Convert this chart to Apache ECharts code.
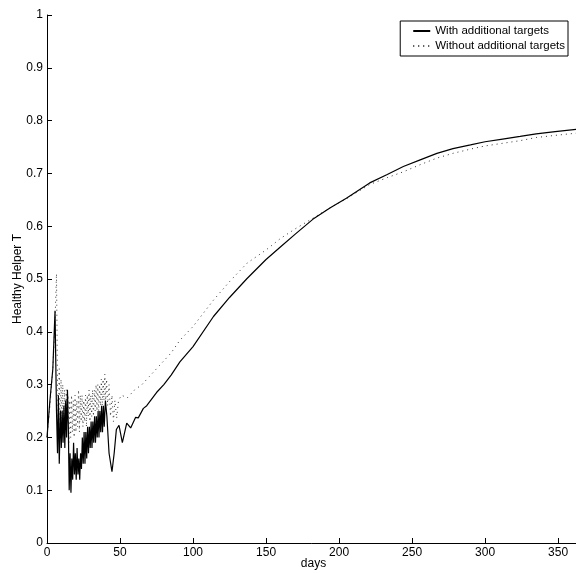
<!DOCTYPE html>
<html>
<head>
<meta charset="utf-8">
<script src="https://cdn.jsdelivr.net/npm/echarts@6/dist/echarts.min.js"></script>
<style>
  html, body { margin: 0; padding: 0; background: #fff; }
  #chart { width: 576px; height: 573px; }
</style>
</head>
<body>
<div id="chart"></div>
<script>
  // [day, value]
  var withTargets = [
    [0, 0.20], [2, 0.27], [4, 0.33], [5.5, 0.44], [6.5, 0.25], [7.2, 0.17], [7.8, 0.28], [8.4, 0.15],
    [9.2, 0.25], [9.8, 0.18], [10.4, 0.25], [11.0, 0.19], [11.6, 0.26], [12.2, 0.18], [12.8, 0.27],
    [13.4, 0.20], [14.0, 0.29], [14.6, 0.22], [15.2, 0.10], [15.8, 0.17], [16.4, 0.095], [17.0, 0.16],
    [17.6, 0.12], [18.2, 0.19], [18.8, 0.13], [19.4, 0.17], [20.0, 0.12], [20.6, 0.18], [21.2, 0.13],
    [21.8, 0.16], [22.4, 0.12], [23.0, 0.17], [23.6, 0.14], [24.2, 0.20], [24.8, 0.15], [25.4, 0.21],
    [26.0, 0.15], [26.6, 0.21], [27.2, 0.16], [27.8, 0.22], [28.4, 0.17], [29.0, 0.22], [29.6, 0.18],
    [30.2, 0.23], [30.8, 0.18], [31.4, 0.23], [32.0, 0.19], [32.6, 0.24], [33.2, 0.19], [33.8, 0.24],
    [34.4, 0.20], [35.0, 0.25], [35.6, 0.20], [36.2, 0.25], [36.8, 0.21], [37.4, 0.26], [38.0, 0.21],
    [38.6, 0.26], [39.2, 0.22], [40.0, 0.27], [41.0, 0.24], [42.5, 0.17], [44.5, 0.135], [46.0, 0.17],
    [47.5, 0.215], [49.3, 0.223], [51.6, 0.19], [54.6, 0.227], [57.3, 0.218], [60.7, 0.238], [62.5, 0.237],
    [66, 0.255], [68.3, 0.26], [75, 0.285], [80, 0.30], [85, 0.318], [91, 0.343], [100, 0.372],
    [114, 0.429], [125, 0.465], [137, 0.501], [150, 0.537], [160, 0.561], [170, 0.585], [182, 0.613],
    [194, 0.635], [205, 0.653], [221, 0.682], [233, 0.698], [244, 0.713], [256, 0.726], [267, 0.738],
    [278, 0.747], [290, 0.754], [300, 0.760], [312, 0.765], [324, 0.770], [335, 0.775], [348, 0.779],
    [365, 0.784]
  ];

  var withoutTargets = [
    [0, 0.20], [2, 0.26], [4, 0.33], [5.5, 0.42], [6.5, 0.51], [7.2, 0.30], [7.8, 0.22], [8.4, 0.33],
    [9.0, 0.20], [9.6, 0.31], [10.2, 0.22], [10.8, 0.30], [11.4, 0.21], [12.0, 0.29], [12.6, 0.22],
    [13.2, 0.29], [13.8, 0.23], [14.4, 0.28], [15.0, 0.19], [15.6, 0.27], [16.2, 0.20], [16.8, 0.28],
    [17.4, 0.21], [18.0, 0.27], [18.6, 0.20], [19.2, 0.28], [19.8, 0.21], [20.4, 0.27], [21.0, 0.22],
    [21.6, 0.29], [22.2, 0.21], [22.8, 0.28], [23.4, 0.23], [24.0, 0.28], [24.6, 0.22], [25.2, 0.27],
    [25.8, 0.23], [26.4, 0.28], [27.0, 0.22], [27.6, 0.28], [28.2, 0.24], [28.8, 0.29], [29.4, 0.23],
    [30.0, 0.28], [30.6, 0.24], [31.2, 0.29], [31.8, 0.24], [32.4, 0.29], [33.0, 0.25], [33.6, 0.30],
    [34.2, 0.25], [34.8, 0.30], [35.4, 0.25], [36.0, 0.30], [36.6, 0.26], [37.2, 0.31], [37.8, 0.26],
    [38.4, 0.31], [39.0, 0.27], [39.6, 0.32], [40.2, 0.27], [40.8, 0.31], [41.5, 0.26], [42.5, 0.30],
    [43.5, 0.24], [44.5, 0.28], [45.5, 0.23], [46.5, 0.27], [47.7, 0.236], [49.0, 0.27], [51, 0.28],
    [55, 0.275], [60, 0.29], [65, 0.30], [70, 0.315], [75, 0.33], [80, 0.345], [85, 0.36], [91, 0.384],
    [100, 0.41], [114, 0.46], [125, 0.495], [137, 0.53], [150, 0.555], [160, 0.577], [170, 0.595],
    [182, 0.615], [194, 0.635], [205, 0.652], [221, 0.679], [233, 0.692], [244, 0.703], [256, 0.717],
    [267, 0.729], [278, 0.738], [290, 0.746], [300, 0.752], [312, 0.757], [324, 0.762], [335, 0.768],
    [348, 0.772], [365, 0.777]
  ];

  var seriesNames = ['With additional targets', 'Without additional targets'];

  var font = 'Liberation Sans, Arial, Helvetica, sans-serif';
  var chart = echarts.init(document.getElementById('chart'), null, { renderer: 'canvas' });

  chart.setOption({
    animation: false,
    backgroundColor: '#fff',
    grid: { left: 47, width: 533, top: 15, bottom: 30, containLabel: false, outerBoundsMode: 'none' },
    legend: {
      data: seriesNames,
      orient: 'vertical',
      right: 8,
      top: 21,
      padding: [4, 3, 4, 12],
      itemGap: 3,
      itemWidth: 17,
      itemHeight: 12,
      borderColor: '#000',
      borderWidth: 1,
      borderRadius: 0,
      backgroundColor: '#fff',
      itemStyle: { color: 'rgba(0,0,0,0)', borderWidth: 0 },
      textStyle: { fontFamily: font, fontSize: 11.5, color: '#000' }
    },
    xAxis: {
      type: 'value',
      min: 0,
      max: 365,
      interval: 50,
      name: 'days',
      nameLocation: 'middle',
      nameGap: 15,
      nameMoveOverlap: false,
      nameTextStyle: { fontFamily: font, fontSize: 12, color: '#000' },
      axisLine: { onZero: false, lineStyle: { color: '#000', width: 1 } },
      axisTick: { inside: true, length: 5, lineStyle: { color: '#000' } },
      axisLabel: { fontFamily: font, fontSize: 12, color: '#000', margin: 4, showMaxLabel: false },
      splitLine: { show: false }
    },
    yAxis: {
      type: 'value',
      min: 0,
      max: 1,
      interval: 0.1,
      name: 'Healthy Helper T',
      nameLocation: 'middle',
      nameGap: 23,
      nameMoveOverlap: false,
      nameTextStyle: { fontFamily: font, fontSize: 12, color: '#000' },
      axisLine: { show: true, onZero: false, lineStyle: { color: '#000', width: 1 } },
      axisTick: { show: true, inside: true, length: 5, lineStyle: { color: '#000' } },
      axisLabel: { fontFamily: font, fontSize: 12, color: '#000', margin: 4 },
      splitLine: { show: false }
    },
    series: [
      {
        name: seriesNames[0],
        type: 'line',
        data: withTargets,
        symbol: 'none',
        clip: true,
        z: 3,
        lineStyle: { color: '#000', width: 1.2, type: 'solid' },
        itemStyle: { color: '#000' }
      },
      {
        name: seriesNames[1],
        type: 'line',
        data: withoutTargets,
        symbol: 'none',
        clip: true,
        z: 2,
        lineStyle: { color: '#333', width: 1, type: [1, 4] },
        itemStyle: { color: '#333' }
      }
    ]
  });
</script>
</body>
</html>
